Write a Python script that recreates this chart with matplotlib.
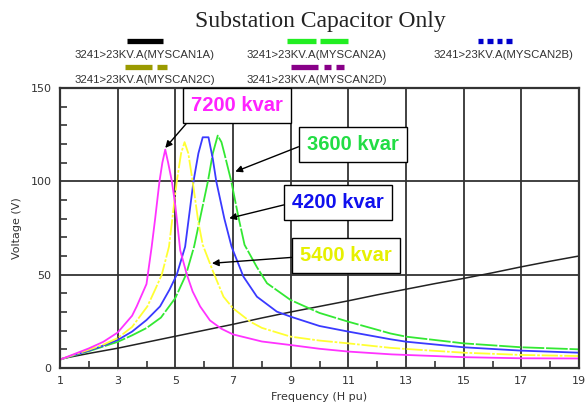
import matplotlib
matplotlib.use("Agg")
import matplotlib.pyplot as plt
from matplotlib.lines import Line2D

# values
x_7200 = [1, 1.5, 2, 2.5, 3, 3.5, 3.66, 4.0, 4.18, 4.3, 4.45, 4.55, 4.65, 4.75, 4.88, 5.0, 5.17,
          5.4, 5.6, 5.86, 6.2, 6.6, 7, 8, 9, 10, 11, 12.5, 13, 15, 17, 19]
y_7200 = [4.5, 7.5, 10.5, 14, 19, 28, 33, 45, 65, 80, 100, 110, 117, 110, 100, 87, 63,
          50, 41, 33, 25.5, 21, 18, 14.2, 12.3, 10.3, 8.8, 7.3, 7, 5.8, 5.2, 5.1]

x_5400 = [1, 1.5, 2, 2.5, 3, 3.5, 4.03, 4.3, 4.53, 4.78, 5.05, 5.2, 5.32, 5.45, 5.6, 5.8, 5.95,
          6.1, 6.3, 6.67, 7, 7.6, 8, 9, 10, 11, 12.46, 13, 15, 17, 19]
y_5400 = [4.5, 7.2, 9.8, 12.5, 16, 22, 33, 42, 50, 65, 100, 115, 121, 115, 100, 78, 66,
          60, 52, 38.2, 32, 24.8, 21.5, 16.8, 14.7, 13.2, 10.8, 10.2, 8.2, 7, 6.4]

x_4200 = [1, 1.5, 2, 2.5, 3, 3.5, 4, 4.47, 4.8, 5.05, 5.34, 5.63, 5.8, 5.95, 6.15, 6.3, 6.42,
          6.7, 6.95, 7.36, 7.83, 8.52, 9, 10, 11, 12.46, 13, 15, 17, 19]
y_4200 = [4.5, 7, 9.3, 12, 15, 19.5, 25.7, 33, 42, 50, 65, 100, 115, 123.6, 123.6, 112, 100,
          80, 65, 49, 38.2, 30.2, 27.5, 22.5, 19.5, 15.4, 14.1, 11.1, 9.3, 8.2]

x_3600 = [1, 1.5, 2, 2.5, 3, 3.5, 4, 4.5, 5, 5.37, 5.65, 6.13, 6.3, 6.47, 6.6, 6.7, 6.94,
          7.2, 7.4, 7.83, 8.18, 9, 10, 11, 12.46, 13, 15, 17, 19]
y_3600 = [4.5, 6.8, 9, 11.5, 14, 17.5, 21.4, 27, 37.5, 50, 65, 100, 115, 124.5, 121, 115, 100,
          80, 66, 54, 45.4, 36.4, 29.5, 24.8, 18.5, 16.8, 13.2, 11.1, 10]

x_base = [1, 2, 3, 4, 5, 6, 7, 8, 9, 10, 11, 12, 13, 14, 15, 16, 17, 18, 19]
y_base = [4.8, 7.8, 10.6, 13.8, 17, 20.2, 23.4, 26.8, 30, 33, 36, 39.2, 42.2, 45.2, 48,
          51, 54.2, 57.2, 60]

legend_names = ["3241>23KV.A(MYSCAN1A)", "3241>23KV.A(MYSCAN2A)", "3241>23KV.A(MYSCAN2B)",
                "3241>23KV.A(MYSCAN2C)", "3241>23KV.A(MYSCAN2D)"]

W, H = 585, 405
fig = plt.figure(figsize=(W / 100, H / 100), dpi=100)
ax = fig.add_axes([60 / W, 1 - 368 / H, (579 - 60) / W, (368 - 88) / H])

ax.plot(x_base, y_base, color="#222222", lw=1.1)
ax.plot(x_3600, y_3600, color="#33e833", lw=1.3, ls=(0, (12, 1)))
ax.plot(x_4200, y_4200, color="#3a3aff", lw=1.3)
ax.plot(x_5400, y_5400, color="#ffff33", lw=1.3, ls=(0, (9, 1, 1.5, 1)))
ax.plot(x_7200, y_7200, color="#ff33ff", lw=1.3)

ax.set_xlim(1, 19)
ax.set_ylim(0, 150)
ax.set_xticks(range(1, 20, 2))
ax.set_yticks([0, 50, 100, 150])
ax.set_xticks(range(2, 19, 2), minor=True)
ax.set_yticks([10, 20, 30, 40, 60, 70, 80, 90, 110, 120, 130, 140], minor=True)
ax.tick_params(which="major", length=0, labelsize=8, labelcolor="#333333", pad=6)
ax.tick_params(which="minor", direction="in", length=5, width=1.2, color="#333333")
for x in range(3, 19, 2):
    ax.axvline(x, color="#333333", lw=1.3, zorder=0)
for y in [50, 100]:
    ax.axhline(y, color="#333333", lw=1.3, zorder=0)
for s in ax.spines.values():
    s.set_linewidth(1.6)
    s.set_color("#333333")

ax.set_xlabel("Frequency (H pu)", fontsize=8, color="#333333", labelpad=4)
ax.set_ylabel("Voltage (V)", fontsize=8, color="#333333", labelpad=6)

# callouts: text, colour, arrow tip, box centre, arrow start on the box
box = dict(boxstyle="square,pad=0.4", fc="white", ec="black", lw=1)
notes = [("7200 kvar", "#ff22ff", (4.65, 117.9), (7.13, 140.5), (0.03, 0)),
         ("3600 kvar", "#22dd44", (7.08, 105.2), (11.16, 119.9), (0, 0.54)),
         ("4200 kvar", "#1010ee", (6.87, 80.2), (10.65, 88.6), (0, 0.49)),
         ("5400 kvar", "#e6f000", (6.27, 56.1), (10.92, 60.4), (0, 0.42))]
for txt, col, xy, xyt, rp in notes:
    ax.annotate(txt, xy=xy, xytext=xyt, fontsize=14.5, fontweight="bold", color=col,
                family="Liberation Sans", ha="center", va="center", bbox=box,
                arrowprops=dict(arrowstyle="-|>", color="black", lw=1, mutation_scale=10,
                                shrinkA=0, shrinkB=0, relpos=rp),
                annotation_clip=False)

# title and legend above the axes
fig.text(320 / W, 1 - 21 / H, "Substation Capacitor Only", family="Liberation Serif",
         fontsize=17, ha="center", va="center", color="#222222")

text_pos = [(145, 55), (317, 55), (503, 55), (145, 80), (317, 80)]
swatches = [("#000000", 41, [(127, 163)]),
            ("#22ee22", 41, [(287, 316), (320, 348)]),
            ("#0000cc", 41, [(478, 483), (487, 493), (497, 502), (506, 512)]),
            ("#9a9a00", 67, [(125, 152), (157, 167)]),
            ("#880088", 67, [(291, 318), (324, 331), (336, 344)])]
for name, (tx, ty), (col, ly, segs) in zip(legend_names, text_pos, swatches):
    for a, b in segs:
        fig.add_artist(Line2D([a / W, b / W], [1 - ly / H, 1 - ly / H], color=col, lw=3.8,
                              solid_capstyle="butt", transform=fig.transFigure))
    fig.text(tx / W, 1 - ty / H, name, fontsize=8.2, ha="center", va="center",
             color="#333333", family="Liberation Sans")

fig.savefig("out.png", dpi=100)
